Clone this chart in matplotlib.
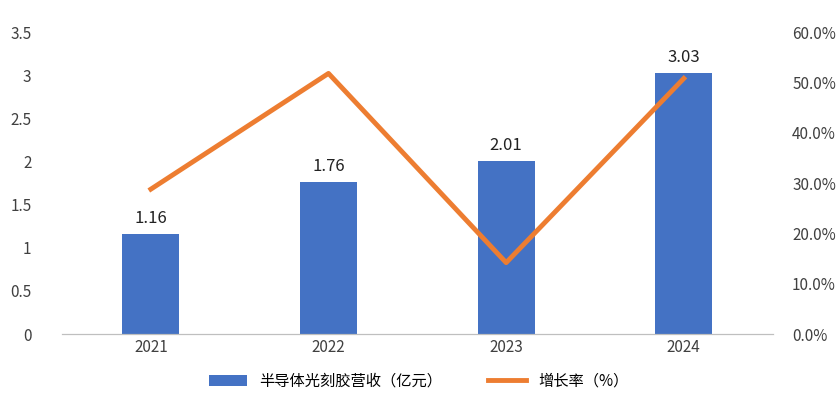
import matplotlib.pyplot as plt
from matplotlib.ticker import FuncFormatter

plt.rcParams['font.family'] = ['Noto Sans CJK SC', 'DejaVu Sans']

years = ["2021", "2022", "2023", "2024"]
revenue = [1.16, 1.76, 2.01, 3.03]
growth = [28.8, 51.8, 14.2, 50.8]

fig = plt.figure(figsize=(8.38, 4.12), dpi=100)
ax = fig.add_axes([0.074, 0.189, 0.848, 0.733])
x = range(len(years))
bars = ax.bar(x, revenue, width=0.32, color="#4472C4", label="半导体光刻胶营收（亿元）")
for xi, v in zip(x, revenue):
    ax.text(xi, v + 0.08, f"{v:.2f}", ha="center", va="bottom", fontsize=12, color="#222222")
ax.set_ylim(0, 3.5)
ax.set_yticks([0, 0.5, 1, 1.5, 2, 2.5, 3, 3.5])
ax.yaxis.set_major_formatter(FuncFormatter(lambda v, p: f"{v:g}"))
ax.set_xlim(-0.5, 3.5)
ax.set_xticks(list(x))
ax.set_xticklabels(years)

ax2 = ax.twinx()
ax2.plot(x, growth, color="#ED7D31", lw=3.5, label="增长率（%）")
ax2.set_ylim(0, 60)
ax2.set_yticks(range(0, 61, 10))
ax2.yaxis.set_major_formatter(FuncFormatter(lambda v, p: f"{v:.1f}%"))

for a in (ax, ax2):
    for s in ("top", "left", "right"):
        a.spines[s].set_visible(False)
    a.spines["bottom"].set_color("#BFBFBF")
    a.tick_params(length=0, labelsize=11, colors="#404040")
ax.tick_params(axis="y", pad=22)
ax2.tick_params(axis="y", pad=14)

h1, l1 = ax.get_legend_handles_labels()
h2, l2 = ax2.get_legend_handles_labels()
fig.legend(h1 + h2, l1 + l2, loc="center", bbox_to_anchor=(0.5, 0.075), ncol=2,
           frameon=False, fontsize=11, columnspacing=3, handlelength=2.5)

fig.savefig("out.png", dpi=100)
